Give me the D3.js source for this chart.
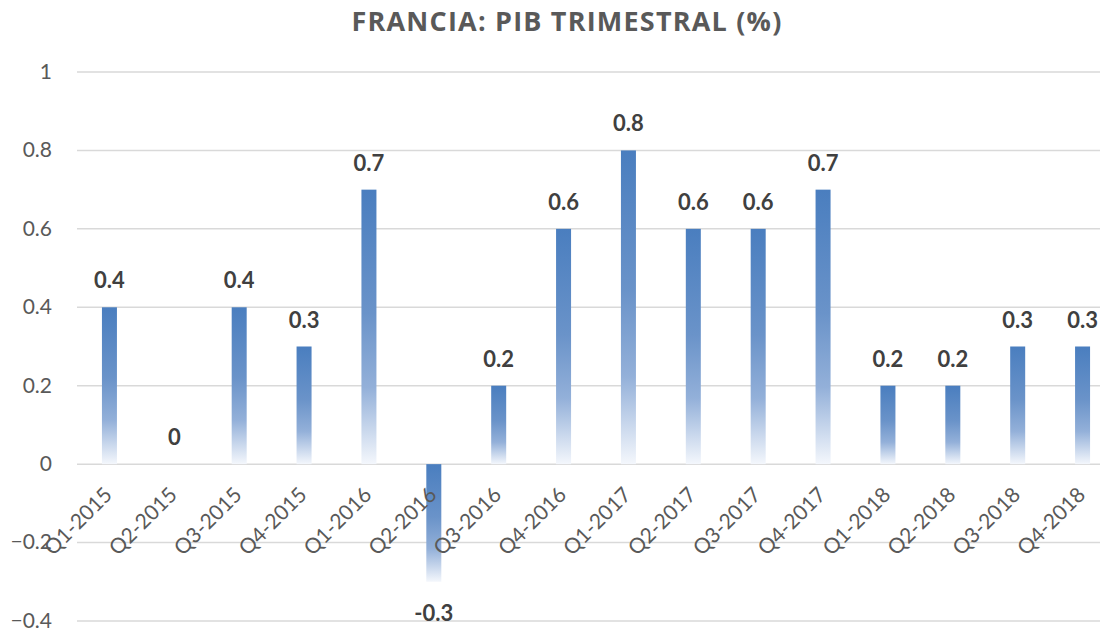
<!DOCTYPE html>
<html>
<head>
<meta charset="utf-8">
<script src="https://cdn.jsdelivr.net/npm/d3@7"></script>
<style>
  body { margin: 0; background: #fff; }
</style>
</head>
<body>
<div id="chart"></div>
<script>
// Data
const quarters = ["Q1-2015", "Q2-2015", "Q3-2015", "Q4-2015",
                  "Q1-2016", "Q2-2016", "Q3-2016", "Q4-2016",
                  "Q1-2017", "Q2-2017", "Q3-2017", "Q4-2017",
                  "Q1-2018", "Q2-2018", "Q3-2018", "Q4-2018"];
const gdp = [0.4, 0, 0.4, 0.3, 0.7, -0.3, 0.2, 0.6, 0.8, 0.6, 0.6, 0.7, 0.2, 0.2, 0.3, 0.3];
const yTicks = [-0.4, -0.2, 0, 0.2, 0.4, 0.6, 0.8, 1];

const data = quarters.map((q, i) => ({ q: q, v: gdp[i] }));

const W = 1105, H = 630;
const margin = { top: 72, right: 5, bottom: 9, left: 77 },
      gridW = 1023,   // gridlines stop a bit short of the edge
      height = H - margin.top - margin.bottom;

const svg = d3.select("#chart")
              .append("svg")
              .attr("width", W)
              .attr("height", H);

// bar gradient, dark at top -> fading out at bottom
const grad = svg.append("defs").append("linearGradient")
                .attr("id", "barGrad")
                .attr("x1", 0).attr("y1", 0)
                .attr("x2", 0).attr("y2", 1);
grad.append("stop").attr("offset", "0%").attr("stop-color", "#4a7ebf");
grad.append("stop").attr("offset", "45%").attr("stop-color", "#6a93c9");
grad.append("stop").attr("offset", "72%").attr("stop-color", "#93b0d9");
grad.append("stop").attr("offset", "100%").attr("stop-color", "#f4f7fc");

const g = svg.append("g")
             .attr("transform", `translate(${margin.left},${margin.top})`);

// plot area in the original runs past the right edge of the picture
const x = d3.scaleBand()
            .domain(quarters)
            .range([0, 1038]);

const y = d3.scaleLinear()
            .domain([-0.4, 1])
            .range([height, 0]);

// gridlines
g.append("g")
 .selectAll("line")
 .data(yTicks)
 .join("line")
 .attr("x1", 0)
 .attr("x2", gridW)
 .attr("y1", d => y(d))
 .attr("y2", d => y(d))
 .attr("stroke", "#d9d9d9")
 .attr("stroke-width", 1.5);

// y axis labels
const yAxis = g.append("g")
               .call(d3.axisLeft(y).tickValues(yTicks).tickSize(0).tickPadding(25)
                     .tickFormat(d => d3.format("")(+d.toFixed(1))));
yAxis.select(".domain").remove();
yAxis.selectAll("text")
     .attr("fill", "#595959")
     .attr("dy", "0.3em")
     .style("font-family", "Lato, 'Open Sans', sans-serif")
     .style("font-size", "21px");

// bars
const barW = 15;
g.selectAll("rect.bar")
 .data(data)
 .join("rect")
 .attr("class", "bar")
 .attr("x", d => x(d.q) + x.bandwidth() / 2 - barW / 2)
 .attr("y", d => y(Math.max(0, d.v)))
 .attr("width", barW)
 .attr("height", d => Math.abs(y(d.v) - y(0)))
 .attr("fill", "url(#barGrad)");

// value labels
g.selectAll("text.val")
 .data(data)
 .join("text")
 .attr("class", "val")
 .attr("x", d => x(d.q) + x.bandwidth() / 2)
 .attr("y", d => d.v < 0 ? y(d.v) + 39 : y(d.v) - 19)
 .attr("text-anchor", "middle")
 .attr("fill", "#404040")
 .style("font-family", "Lato, 'Open Sans', sans-serif")
 .style("font-weight", "bold")
 .style("font-size", "22px")
 .text(d => d.v);

// x category labels, rotated
g.selectAll("text.cat")
 .data(quarters)
 .join("text")
 .attr("class", "cat")
 .attr("transform", d => `translate(${x(d) + x.bandwidth() / 2 + 4},${y(0) + 32}) rotate(-45)`)
 .attr("text-anchor", "end")
 .attr("fill", "#595959")
 .style("font-family", "Lato, 'Open Sans', sans-serif")
 .style("font-size", "21px")
 .text(d => d);

// title
svg.append("text")
   .attr("x", 567)
   .attr("y", 31)
   .attr("text-anchor", "middle")
   .attr("fill", "#595959")
   .style("font-family", "'Open Sans', sans-serif")
   .style("font-weight", "bold")
   .style("font-size", "27px")
   .style("letter-spacing", "1.2px")
   .text("FRANCIA: PIB TRIMESTRAL (%)");
</script>
</body>
</html>
